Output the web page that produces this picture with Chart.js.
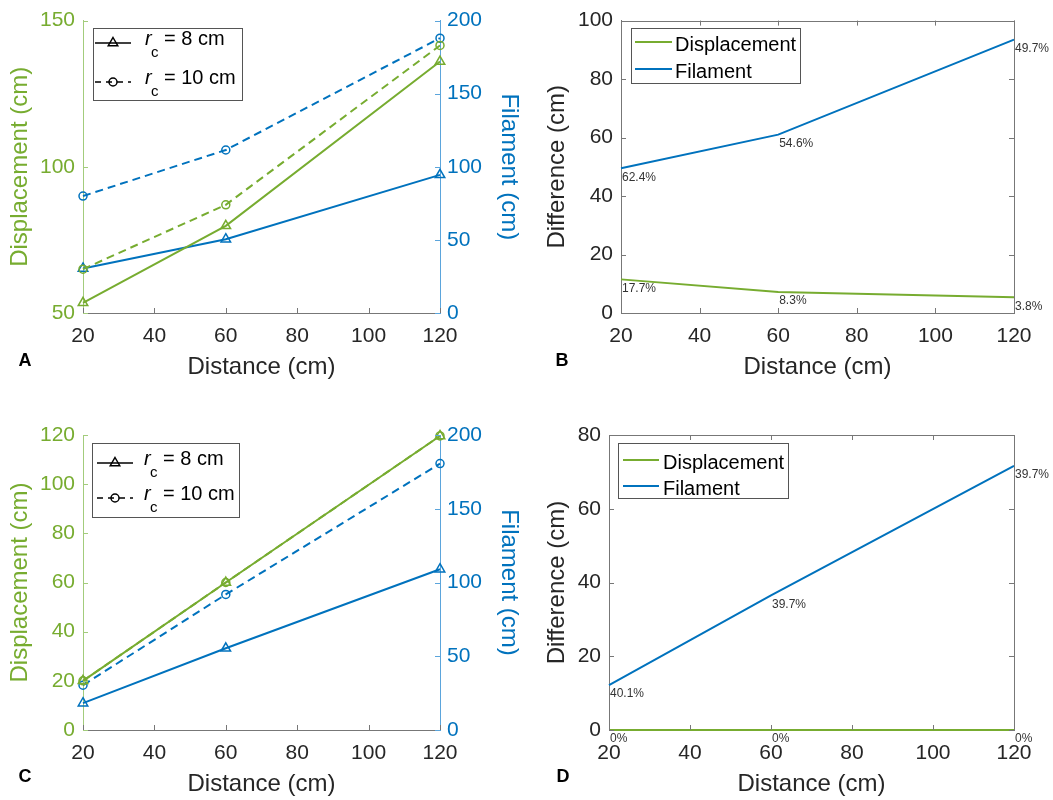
<!DOCTYPE html>
<html>
<head>
<meta charset="utf-8">
<script src="https://cdn.jsdelivr.net/npm/chart.js@4"></script>
<style>
body{margin:0;background:#fff;width:1053px;height:800px;position:relative;overflow:hidden}
canvas{position:absolute}
</style>
</head>
<body>
<canvas id="cA" width="530" height="390" style="left:0;top:0"></canvas>
<canvas id="cB" width="523" height="390" style="left:530px;top:0"></canvas>
<canvas id="cC" width="530" height="400" style="left:0;top:400px"></canvas>
<canvas id="cD" width="523" height="400" style="left:530px;top:400px"></canvas>
<script>
// distances (cm)
var distance = [20, 60, 120];

// panel A: displacement / filament, rc = 8 cm and rc = 10 cm
var dispA8 = [53.5, 79.8, 136];
var dispA10 = [65, 87, 141.5];
var filA8 = [30.5, 50.5, 94.5];
var filA10 = [80, 111.5, 188];

// panel B: differences + percent labels
var dispDiffB = [11.5, 7.2, 5.4];
var filDiffB = [49.5, 61, 93.5];
var dispPctB = ['17.7%', '8.3%', '3.8%'];
var filPctB = ['62.4%', '54.6%', '49.7%'];

// panel C
var dispC8 = [20, 60, 119.6];
var dispC10 = [20, 60, 119.6];
var filC8 = [18.2, 55.4, 109];
var filC10 = [30.4, 91.9, 180.6];

// panel D
var dispDiffD = [0, 0, 0];
var filDiffD = [12.2, 36.5, 71.6];
var dispPctD = ['0%', '0%', '0%'];
var filPctD = ['40.1%', '39.7%', '39.7%'];

var GREEN = '#77AC30', BLUE = '#0072BD', INK = '#262626';
var GREEN_AX = '#a3cc7c', BLUE_AX = '#5ba5dc';
var FONT = '"Liberation Sans", Arial, Helvetica, sans-serif';

function pts(ys){ return distance.map(function(x,i){ return {x:x, y:ys[i]}; }); }

function series(ys, color, axis, dashed, marker){
  return {
    data: pts(ys), yAxisID: axis, borderColor: color, borderWidth: 2,
    borderDash: dashed ? [8,5] : [],
    pointStyle: marker || 'circle', pointRadius: marker ? (marker === 'triangle' ? 5.5 : 4) : 0,
    pointBorderColor: color, pointBackgroundColor: 'rgba(0,0,0,0)', pointBorderWidth: 1.5,
    clip: false, tension: 0, fill: false
  };
}

function xAxis(h, tpad){
  return {
    type: 'linear', min: 20, max: 120,
    ticks: {stepSize: 20, color: INK, font: {family: FONT, size: 21}, padding: 11, maxRotation: 0, autoSkip: false},
    grid: {display: false, drawTicks: false}, border: {color: '#777', width: 1},
    title: {display: true, text: 'Distance (cm)', color: INK, font: {family: FONT, size: 24}, padding: {top: 0, bottom: tpad}},
    afterFit: function(s){ s.height = h; }
  };
}

function yAxis(pos, min, max, step, color, title, w, tpad){
  return {
    type: 'linear', position: pos, min: min, max: max,
    ticks: {stepSize: step, color: color, font: {family: FONT, size: 21}, padding: pos === 'left' ? 8 : 7},
    grid: {display: false, drawTicks: false}, border: {color: color === INK ? '#777' : (color === GREEN ? GREEN_AX : BLUE_AX), width: 1},
    title: {display: true, text: title, color: color, font: {family: FONT, size: 24}, padding: {top: tpad, bottom: 0}},
    afterFit: function(s){ s.width = w; }
  };
}

function innerTicks(chart, id, side, color){
  var s = chart.scales[id], ca = chart.chartArea, ctx = chart.ctx, len = 5;
  ctx.save(); ctx.strokeStyle = color; ctx.lineWidth = 1; ctx.beginPath();
  s.ticks.forEach(function(t){
    var p = Math.round(s.getPixelForValue(t.value)) + 0.5;
    if (side === 'bottom'){ ctx.moveTo(p, ca.bottom); ctx.lineTo(p, ca.bottom - len); }
    if (side === 'top'){ ctx.moveTo(p, ca.top); ctx.lineTo(p, ca.top + len); }
    if (side === 'left'){ ctx.moveTo(ca.left, p); ctx.lineTo(ca.left + len, p); }
    if (side === 'right'){ ctx.moveTo(ca.right, p); ctx.lineTo(ca.right - len, p); }
  });
  ctx.stroke(); ctx.restore();
}

function drawMarker(ctx, kind, x, y){
  ctx.beginPath();
  if (kind === 'triangle'){
    var r = 5.5;
    ctx.moveTo(x, y - r);
    ctx.lineTo(x + r * 0.866, y + r / 2);
    ctx.lineTo(x - r * 0.866, y + r / 2);
    ctx.closePath();
  } else {
    ctx.arc(x, y, 4, 0, Math.PI * 2);
  }
  ctx.stroke();
}

var overlay = {
  id: 'overlay',
  afterDraw: function(chart){
    var o = chart.options.plugins.overlay, ctx = chart.ctx, ca = chart.chartArea;
    ctx.save();
    // axis ticks inside the box
    (o.ticks || []).forEach(function(t){ innerTicks(chart, t[0], t[1], t[2]); });
    if (o.box){
      ctx.strokeStyle = '#777'; ctx.lineWidth = 1; ctx.beginPath();
      ctx.moveTo(ca.left, Math.round(ca.top) + 0.5); ctx.lineTo(ca.right, Math.round(ca.top) + 0.5);
      ctx.moveTo(Math.round(ca.right) + 0.5, ca.top); ctx.lineTo(Math.round(ca.right) + 0.5, ca.bottom);
      ctx.stroke();
    }
    // percent labels next to each point
    ctx.font = '12px ' + FONT; ctx.fillStyle = '#333'; ctx.textBaseline = 'middle'; ctx.textAlign = 'left';
    (o.labels || []).forEach(function(l){
      var meta = chart.getDatasetMeta(l.ds);
      meta.data.forEach(function(pt, i){ ctx.fillText(l.texts[i], pt.x + 1, pt.y + 9); });
    });
    // legend
    var lg = o.legend;
    if (lg){
      ctx.fillStyle = '#fff'; ctx.fillRect(lg.x, lg.y, lg.w, lg.h);
      ctx.strokeStyle = '#555'; ctx.lineWidth = 1;
      ctx.strokeRect(lg.x + 0.5, lg.y + 0.5, lg.w, lg.h);
      lg.rows.forEach(function(r){
        ctx.save();
        ctx.strokeStyle = r.color; ctx.lineWidth = r.lw || 1.5;
        ctx.setLineDash(r.dash || []);
        ctx.beginPath(); ctx.moveTo(lg.sx1, r.y); ctx.lineTo(lg.sx2, r.y); ctx.stroke();
        ctx.setLineDash([]);
        if (r.marker) drawMarker(ctx, r.marker, (lg.sx1 + lg.sx2) / 2, r.y);
        ctx.restore();
        ctx.fillStyle = '#000'; ctx.textBaseline = 'alphabetic'; ctx.textAlign = 'left';
        if (r.rc){
          ctx.font = 'italic 20px ' + FONT; ctx.fillText('r', lg.tx, r.y + 2);
          ctx.font = '15px ' + FONT; ctx.fillText('c', lg.tx + 6, r.y + 14);
          ctx.font = '20px ' + FONT; ctx.fillText(r.text, lg.tx + 19, r.y + 2);
        } else {
          ctx.font = '20px ' + FONT; ctx.fillText(r.text, lg.tx, r.y + 8.5);
        }
      });
    }
    // panel letter
    ctx.font = 'bold 18px ' + FONT; ctx.fillStyle = '#000'; ctx.textAlign = 'center'; ctx.textBaseline = 'middle';
    ctx.fillText(o.letter[0], o.letter[1], o.letter[2]);
    ctx.restore();
  }
};

function make(id, datasets, scales, padding, ov){
  return new Chart(document.getElementById(id), {
    type: 'line',
    data: {datasets: datasets},
    options: {
      responsive: false, animation: false, devicePixelRatio: 1,
      layout: {padding: padding},
      scales: scales,
      plugins: {legend: {display: false}, tooltip: {enabled: false}, overlay: ov}
    },
    plugins: [overlay]
  });
}

function rcLegend(x, y, w, h, y1, y2, sx1, sx2, tx){
  return {x: x, y: y, w: w, h: h, sx1: sx1, sx2: sx2, tx: tx, rows: [
    {y: y1, color: '#000', marker: 'triangle', rc: true, text: '= 8 cm'},
    {y: y2, color: '#000', marker: 'circle', dash: [6, 5], rc: true, text: '= 10 cm'}
  ]};
}

function diffLegend(x, y, w, h, y1, y2, sx1, sx2, tx){
  return {x: x, y: y, w: w, h: h, sx1: sx1, sx2: sx2, tx: tx, rows: [
    {y: y1, color: GREEN, lw: 2, text: 'Displacement'},
    {y: y2, color: BLUE, lw: 2, text: 'Filament'}
  ]};
}

// A
make('cA', [
  series(dispA8, GREEN, 'y', false, 'triangle'),
  series(dispA10, GREEN, 'y', true, 'circle'),
  series(filA8, BLUE, 'y1', false, 'triangle'),
  series(filA10, BLUE, 'y1', true, 'circle')
], {
  x: xAxis(77, 8),
  y: yAxis('left', 50, 150, 50, GREEN, 'Displacement (cm)', 83, 6),
  y1: yAxis('right', 0, 200, 50, BLUE, 'Filament (cm)', 90, 7)
}, {top: 18, left: 0, right: 0, bottom: 0}, {
  ticks: [['x', 'bottom', '#777'], ['y', 'left', GREEN_AX], ['y1', 'right', BLUE_AX]],
  legend: rcLegend(93, 28, 149, 72, 43, 82, 95, 131, 145),
  letter: ['A', 25, 361]
});

// B
make('cB', [
  series(dispDiffB, GREEN, 'y', false, null),
  series(filDiffB, BLUE, 'y', false, null)
], {
  x: xAxis(77, 8),
  y: yAxis('left', 0, 100, 20, INK, 'Difference (cm)', 91, 13)
}, {top: 18, left: 0, right: 39, bottom: 0}, {
  box: true,
  ticks: [['x', 'bottom', '#777'], ['x', 'top', '#777'], ['y', 'left', '#777'], ['y', 'right', '#777']],
  labels: [{ds: 0, texts: dispPctB}, {ds: 1, texts: filPctB}],
  legend: diffLegend(101, 28, 169, 55, 42, 69, 105, 142, 145),
  letter: ['B', 32, 361]
});

// C
make('cC', [
  series(dispC8, GREEN, 'y', false, 'triangle'),
  series(dispC10, GREEN, 'y', true, 'circle'),
  series(filC8, BLUE, 'y1', false, 'triangle'),
  series(filC10, BLUE, 'y1', true, 'circle')
], {
  x: xAxis(70, 1),
  y: yAxis('left', 0, 120, 20, GREEN, 'Displacement (cm)', 83, 6),
  y1: yAxis('right', 0, 200, 50, BLUE, 'Filament (cm)', 90, 7)
}, {top: 35, left: 0, right: 0, bottom: 0}, {
  ticks: [['x', 'bottom', '#777'], ['y', 'left', GREEN_AX], ['y1', 'right', BLUE_AX]],
  legend: rcLegend(92, 43, 147, 74, 63, 98, 97, 133, 144),
  letter: ['C', 25, 377]
});

// D
make('cD', [
  series(dispDiffD, GREEN, 'y', false, null),
  series(filDiffD, BLUE, 'y', false, null)
], {
  x: xAxis(70, 1),
  y: yAxis('left', 0, 80, 20, INK, 'Difference (cm)', 79, 13)
}, {top: 35, left: 0, right: 39, bottom: 0}, {
  box: true,
  ticks: [['x', 'bottom', '#777'], ['x', 'top', '#777'], ['y', 'left', '#777'], ['y', 'right', '#777']],
  labels: [{ds: 0, texts: dispPctD}, {ds: 1, texts: filPctD}],
  legend: diffLegend(88, 43, 170, 55, 60, 86, 93, 129, 133),
  letter: ['D', 33, 377]
});
</script>
</body>
</html>
